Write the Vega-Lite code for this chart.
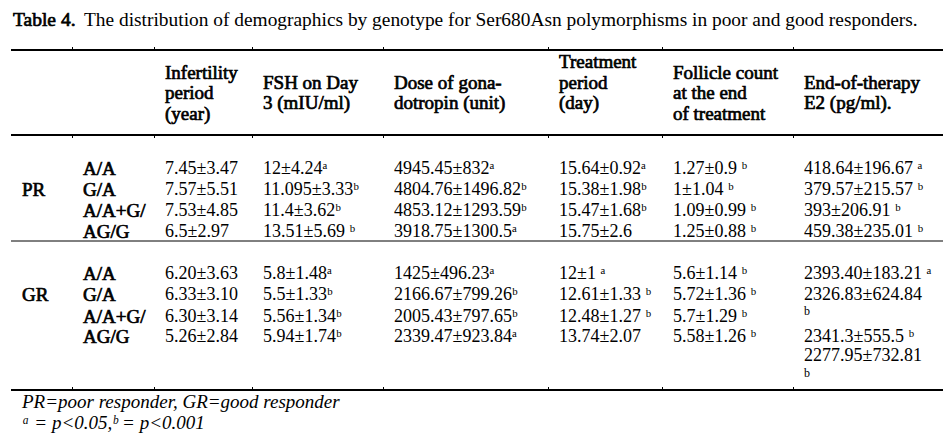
{
  "$schema": "https://vega.github.io/schema/vega-lite/v6.json",
  "width": 949,
  "height": 441,
  "autosize": {"type": "fit", "contains": "padding"},
  "padding": 0,
  "background": "white",
  "config": {"view": {"stroke": null}},
  "datasets": {
    "rules": [
      {"line": 1, "from": 0, "to": 9, "weight": "thick"},
      {"line": 8, "from": 0, "to": 9, "weight": "thick"},
      {"line": 13, "from": 0, "to": 9, "weight": "thin"},
      {"line": 21, "from": 0, "to": 9, "weight": "thick"}
    ],
    "ticks": [
      {"line": 1, "col": 2}, {"line": 1, "col": 3}, {"line": 1, "col": 4}, {"line": 1, "col": 5}, {"line": 1, "col": 6}, {"line": 1, "col": 7}, {"line": 1, "col": 8},
      {"line": 8, "col": 2}, {"line": 8, "col": 3}, {"line": 8, "col": 4}, {"line": 8, "col": 5}, {"line": 8, "col": 6}, {"line": 8, "col": 7}, {"line": 8, "col": 8},
      {"line": 21, "col": 2}, {"line": 21, "col": 3}, {"line": 21, "col": 4}, {"line": 21, "col": 5}, {"line": 21, "col": 6}, {"line": 21, "col": 7}, {"line": 21, "col": 8}
    ],
    "cells": [
      {"line": 0, "col": 0, "role": "titleB", "text": "Table 4."},
      {"line": 0, "col": 0, "role": "title", "text": "The distribution of demographics by genotype for Ser680Asn polymorphisms in poor and good responders."},
      {"line": 3, "col": 3, "role": "head", "text": "Infertility"},
      {"line": 5, "col": 3, "role": "head", "text": "period"},
      {"line": 7, "col": 3, "role": "head", "text": "(year)"},
      {"line": 4, "col": 4, "role": "head", "text": "FSH on Day"},
      {"line": 6, "col": 4, "role": "head", "text": "3 (mIU/ml)"},
      {"line": 4, "col": 5, "role": "head", "text": "Dose of gona-"},
      {"line": 6, "col": 5, "role": "head", "text": "dotropin (unit)"},
      {"line": 2, "col": 6, "role": "head", "text": "Treatment"},
      {"line": 4, "col": 6, "role": "head", "text": "period"},
      {"line": 6, "col": 6, "role": "head", "text": "(day)"},
      {"line": 3, "col": 7, "role": "head", "text": "Follicle count"},
      {"line": 5, "col": 7, "role": "head", "text": "at the end"},
      {"line": 7, "col": 7, "role": "head", "text": "of treatment"},
      {"line": 4, "col": 8, "role": "head", "text": "End-of-therapy"},
      {"line": 6, "col": 8, "role": "head", "text": "E2 (pg/ml)."},

      {"line": 10, "col": 1, "role": "label", "text": "PR"},
      {"line": 9, "col": 2, "role": "label", "text": "A/A"},
      {"line": 10, "col": 2, "role": "label", "text": "G/A"},
      {"line": 11, "col": 2, "role": "label", "text": "A/A+G/"},
      {"line": 12, "col": 2, "role": "label", "text": "AG/G"},
      {"line": 9, "col": 3, "role": "cell", "text": "7.45±3.47"},
      {"line": 10, "col": 3, "role": "cell", "text": "7.57±5.51"},
      {"line": 11, "col": 3, "role": "cell", "text": "7.53±4.85"},
      {"line": 12, "col": 3, "role": "cell", "text": "6.5±2.97"},
      {"line": 9, "col": 4, "role": "cell", "text": "12±4.24ᵃ"},
      {"line": 10, "col": 4, "role": "cell", "text": "11.095±3.33ᵇ"},
      {"line": 11, "col": 4, "role": "cell", "text": "11.4±3.62ᵇ"},
      {"line": 12, "col": 4, "role": "cell", "text": "13.51±5.69 ᵇ"},
      {"line": 9, "col": 5, "role": "cell", "text": "4945.45±832ᵃ"},
      {"line": 10, "col": 5, "role": "cell", "text": "4804.76±1496.82ᵇ"},
      {"line": 11, "col": 5, "role": "cell", "text": "4853.12±1293.59ᵇ"},
      {"line": 12, "col": 5, "role": "cell", "text": "3918.75±1300.5ᵃ"},
      {"line": 9, "col": 6, "role": "cell", "text": "15.64±0.92ᵃ"},
      {"line": 10, "col": 6, "role": "cell", "text": "15.38±1.98ᵇ"},
      {"line": 11, "col": 6, "role": "cell", "text": "15.47±1.68ᵇ"},
      {"line": 12, "col": 6, "role": "cell", "text": "15.75±2.6"},
      {"line": 9, "col": 7, "role": "cell", "text": "1.27±0.9 ᵇ"},
      {"line": 10, "col": 7, "role": "cell", "text": "1±1.04 ᵇ"},
      {"line": 11, "col": 7, "role": "cell", "text": "1.09±0.99 ᵇ"},
      {"line": 12, "col": 7, "role": "cell", "text": "1.25±0.88 ᵇ"},
      {"line": 9, "col": 8, "role": "cell", "text": "418.64±196.67 ᵃ"},
      {"line": 10, "col": 8, "role": "cell", "text": "379.57±215.57 ᵇ"},
      {"line": 11, "col": 8, "role": "cell", "text": "393±206.91 ᵇ"},
      {"line": 12, "col": 8, "role": "cell", "text": "459.38±235.01 ᵇ"},

      {"line": 15, "col": 1, "role": "label", "text": "GR"},
      {"line": 14, "col": 2, "role": "label", "text": "A/A"},
      {"line": 15, "col": 2, "role": "label", "text": "G/A"},
      {"line": 17, "col": 2, "role": "label", "text": "A/A+G/"},
      {"line": 18, "col": 2, "role": "label", "text": "AG/G"},
      {"line": 14, "col": 3, "role": "cell", "text": "6.20±3.63"},
      {"line": 15, "col": 3, "role": "cell", "text": "6.33±3.10"},
      {"line": 17, "col": 3, "role": "cell", "text": "6.30±3.14"},
      {"line": 18, "col": 3, "role": "cell", "text": "5.26±2.84"},
      {"line": 14, "col": 4, "role": "cell", "text": "5.8±1.48ᵃ"},
      {"line": 15, "col": 4, "role": "cell", "text": "5.5±1.33ᵇ"},
      {"line": 17, "col": 4, "role": "cell", "text": "5.56±1.34ᵇ"},
      {"line": 18, "col": 4, "role": "cell", "text": "5.94±1.74ᵇ"},
      {"line": 14, "col": 5, "role": "cell", "text": "1425±496.23ᵃ"},
      {"line": 15, "col": 5, "role": "cell", "text": "2166.67±799.26ᵇ"},
      {"line": 17, "col": 5, "role": "cell", "text": "2005.43±797.65ᵇ"},
      {"line": 18, "col": 5, "role": "cell", "text": "2339.47±923.84ᵃ"},
      {"line": 14, "col": 6, "role": "cell", "text": "12±1 ᵃ"},
      {"line": 15, "col": 6, "role": "cell", "text": "12.61±1.33 ᵇ"},
      {"line": 17, "col": 6, "role": "cell", "text": "12.48±1.27 ᵇ"},
      {"line": 18, "col": 6, "role": "cell", "text": "13.74±2.07"},
      {"line": 14, "col": 7, "role": "cell", "text": "5.6±1.14 ᵇ"},
      {"line": 15, "col": 7, "role": "cell", "text": "5.72±1.36 ᵇ"},
      {"line": 17, "col": 7, "role": "cell", "text": "5.7±1.29 ᵇ"},
      {"line": 18, "col": 7, "role": "cell", "text": "5.58±1.26 ᵇ"},
      {"line": 14, "col": 8, "role": "cell", "text": "2393.40±183.21 ᵃ"},
      {"line": 15, "col": 8, "role": "cell", "text": "2326.83±624.84"},
      {"line": 16, "col": 8, "role": "small", "text": "b"},
      {"line": 18, "col": 8, "role": "cell", "text": "2341.3±555.5 ᵇ"},
      {"line": 19, "col": 8, "role": "cell", "text": "2277.95±732.81"},
      {"line": 20, "col": 8, "role": "small", "text": "b"},

      {"line": 22, "col": 1, "role": "foot", "text": "PR=poor responder, GR=good responder"},
      {"line": 23, "col": 1, "role": "foot", "text": "ᵃ = p<0.05,ᵇ = p<0.001"}
    ]
  },
  "encoding": {
    "y": {
      "field": "line", "type": "quantitative", "axis": null,
      "scale": {"type": "linear", "nice": false, "zero": false,
        "domain": [0, 1, 2, 3, 4, 5, 6, 7, 8, 9, 10, 11, 12, 13, 14, 15, 16, 17, 18, 19, 20, 21, 22, 23],
        "range": [20, 50, 62, 73, 83, 93, 103, 114, 135, 169, 190, 211, 232, 241, 274, 295, 311, 317, 337, 356, 373, 390, 402, 423]}
    }
  },
  "resolve": {"scale": {"x": "shared", "y": "shared"}},
  "layer": [
    {
      "data": {"name": "rules"},
      "transform": [{"filter": "datum.weight === 'thick'"}],
      "mark": {"type": "rule", "color": "black", "strokeWidth": 2},
      "encoding": {
        "x": {"field": "from", "type": "quantitative", "axis": null,
          "scale": {"type": "linear", "nice": false, "zero": false,
            "domain": [0, 1, 2, 3, 4, 5, 6, 7, 8, 9],
            "range": [11, 22, 83, 165, 263, 394, 559, 673, 804, 943]}},
        "x2": {"field": "to"}
      }
    },
    {
      "data": {"name": "rules"},
      "transform": [{"filter": "datum.weight === 'thin'"}],
      "mark": {"type": "rule", "color": "black", "strokeWidth": 1},
      "encoding": {
        "x": {"field": "from", "type": "quantitative"},
        "x2": {"field": "to"}
      }
    },
    {
      "data": {"name": "ticks"},
      "transform": [{"filter": "datum.line !== 8"}],
      "mark": {"type": "rule", "color": "black", "strokeWidth": 1, "xOffset": -10.5, "yOffset": -3, "y2Offset": 0},
      "encoding": {
        "x": {"field": "col", "type": "quantitative"},
        "y2": {"field": "line"}
      }
    },
    {
      "data": {"name": "ticks"},
      "transform": [{"filter": "datum.line === 8"}],
      "mark": {"type": "rule", "color": "black", "strokeWidth": 1, "xOffset": -10.5, "yOffset": 0, "y2Offset": 3},
      "encoding": {
        "x": {"field": "col", "type": "quantitative"},
        "y2": {"field": "line"}
      }
    },
    {
      "data": {"name": "cells"},
      "transform": [{"filter": "datum.role === 'titleB'"}],
      "mark": {"type": "text", "align": "left", "baseline": "middle", "font": "Liberation Serif", "fontSize": 19.5, "color": "black", "stroke": "black", "strokeWidth": 0.7, "xOffset": 2},
      "encoding": {"x": {"field": "col", "type": "quantitative"}, "text": {"field": "text"}}
    },
    {
      "data": {"name": "cells"},
      "transform": [{"filter": "datum.role === 'title'"}],
      "mark": {"type": "text", "align": "left", "baseline": "middle", "font": "Liberation Serif", "fontSize": 19.4, "color": "black", "xOffset": 73},
      "encoding": {"x": {"field": "col", "type": "quantitative"}, "text": {"field": "text"}}
    },
    {
      "data": {"name": "cells"},
      "transform": [{"filter": "datum.role === 'head' || datum.role === 'label'"}],
      "mark": {"type": "text", "align": "left", "baseline": "middle", "font": "Liberation Serif", "fontSize": 19, "color": "black", "stroke": "black", "strokeWidth": 0.7},
      "encoding": {"x": {"field": "col", "type": "quantitative"}, "text": {"field": "text"}}
    },
    {
      "data": {"name": "cells"},
      "transform": [{"filter": "datum.role === 'cell'"}],
      "mark": {"type": "text", "align": "left", "baseline": "middle", "font": "Liberation Serif", "fontSize": 18, "color": "black"},
      "encoding": {"x": {"field": "col", "type": "quantitative"}, "text": {"field": "text"}}
    },
    {
      "data": {"name": "cells"},
      "transform": [{"filter": "datum.role === 'small'"}],
      "mark": {"type": "text", "align": "left", "baseline": "middle", "font": "Liberation Serif", "fontSize": 12, "color": "black"},
      "encoding": {"x": {"field": "col", "type": "quantitative"}, "text": {"field": "text"}}
    },
    {
      "data": {"name": "cells"},
      "transform": [{"filter": "datum.role === 'foot'"}],
      "mark": {"type": "text", "align": "left", "baseline": "middle", "font": "Liberation Serif", "fontStyle": "italic", "fontSize": 19, "color": "black"},
      "encoding": {"x": {"field": "col", "type": "quantitative"}, "text": {"field": "text"}}
    }
  ]
}
